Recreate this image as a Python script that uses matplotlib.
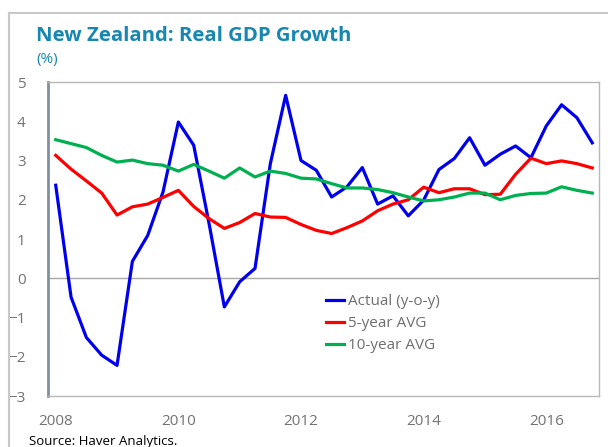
import matplotlib
matplotlib.use("Agg")
import matplotlib.pyplot as plt
from matplotlib.lines import Line2D

# quarterly data, 2008Q1 - 2016Q4
anios = [2008 + i / 4 for i in range(36)]
actual = [2.37, -0.48, -1.51, -1.96, -2.22, 0.43, 1.09, 2.2, 3.98, 3.39, 1.4, -0.73,
          -0.09, 0.25, 2.92, 4.66, 3.0, 2.75, 2.07, 2.33, 2.82, 1.89, 2.10, 1.59,
          1.99, 2.77, 3.05, 3.58, 2.88, 3.16, 3.37, 3.07, 3.88, 4.42, 4.09, 3.45]
prom_5 = [3.13, 2.78, 2.48, 2.17, 1.61, 1.82, 1.89, 2.06, 2.24, 1.83, 1.52, 1.27,
          1.42, 1.65, 1.56, 1.55, 1.37, 1.22, 1.14, 1.29, 1.46, 1.72, 1.89, 2.0,
          2.32, 2.18, 2.28, 2.28, 2.13, 2.14, 2.65, 3.06, 2.92, 2.99, 2.92, 2.81]
prom_10 = [3.53, 3.43, 3.33, 3.13, 2.96, 3.01, 2.92, 2.88, 2.73, 2.90, 2.73, 2.55,
           2.81, 2.58, 2.73, 2.67, 2.55, 2.53, 2.41, 2.30, 2.30, 2.26, 2.18, 2.07,
           1.97, 2.0, 2.07, 2.17, 2.17, 2.0, 2.11, 2.16, 2.17, 2.33, 2.24, 2.17]
etiquetas_x = [2008, 2010, 2012, 2014, 2016]
etiquetas_y = [-3, -2, -1, 0, 1, 2, 3, 4, 5]

W, H = 608, 447
fig = plt.figure(figsize=(W / 100, H / 100), dpi=100)
plt.rcParams['font.family'] = ['Open Sans', 'DejaVu Sans']

# area del grafico en pixeles: x 48-599, y 82-396
ax = fig.add_axes([48 / W, 1 - 396 / H, (599 - 48) / W, (396 - 82) / H])

ax.plot(anios, actual, color='#0000ee', lw=2.3, label='Actual (y-o-y)')
ax.plot(anios, prom_5, color='#ff0000', lw=2.3, label='5-year AVG')
ax.plot(anios, prom_10, color='#00b050', lw=2.3, label='10-year AVG')
ax.axhline(0, color='#a8a8a8', lw=1, zorder=0)

ax.set_xlim(2007.874, 2016.86)
ax.set_ylim(-3, 5)
ax.set_xticks(etiquetas_x)
ax.set_xticklabels([str(a) for a in etiquetas_x])
ax.set_yticks(etiquetas_y)
ax.tick_params(length=0, colors='#737373', labelsize=11)
ax.tick_params(axis='y', pad=16)
ax.tick_params(axis='x', pad=13)

for lado in ['top', 'right', 'bottom']:
    ax.spines[lado].set_color('#b8b8b8')
    ax.spines[lado].set_linewidth(1)
ax.spines['left'].set_color('#8090a0')
ax.spines['left'].set_linewidth(2)

ax.legend(loc='upper left', bbox_to_anchor=((320 - 48) / (599 - 48), (396 - 288) / (396 - 82)),
          frameon=False, fontsize=11, labelcolor='#6e6e6e', handlelength=1.2,
          handletextpad=0.2, labelspacing=0.45, borderaxespad=0)

# titulos y fuente
fig.text(36.5 / W, 1 - 36 / H, 'New Zealand: Real GDP Growth', color='#1787b0',
         fontsize=14.7, fontweight='bold', va='center', ha='left')
fig.text(36 / W, 1 - 60 / H, '(%)', color='#1787b0', fontsize=11, va='center', ha='left')
fig.text(29 / W, 1 - 441 / H, 'Source: Haver Analytics.', color='black',
         fontsize=9.5, va='center', ha='left')

# marco exterior
fig.add_artist(Line2D([9 / W, 9 / W], [0, 1 - 13 / H], color='#c8c8c8', lw=1.5,
                      transform=fig.transFigure))
fig.add_artist(Line2D([9 / W, 1], [1 - 13 / H, 1 - 13 / H], color='#c8c8c8', lw=1.5,
                      transform=fig.transFigure))

fig.savefig('out.png', dpi=100)
